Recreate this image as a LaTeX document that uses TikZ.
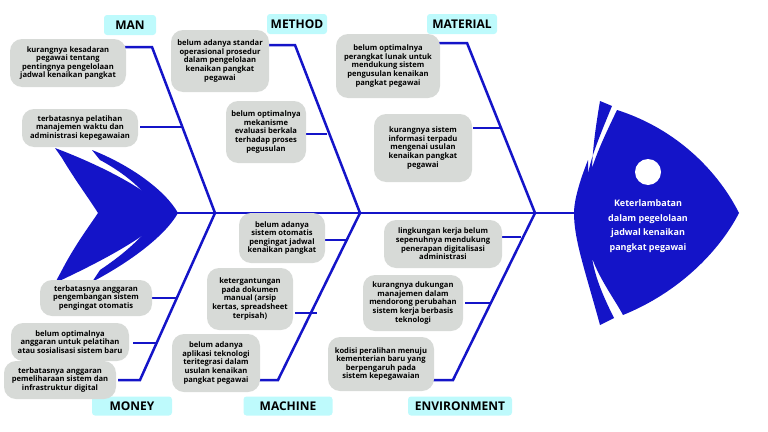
\documentclass[tikz,border=0pt]{standalone}
\usepackage{fontspec}
\setmainfont{Open Sans}
\usetikzlibrary{calc}
\definecolor{bone}{RGB}{20,20,200}
\definecolor{cause}{RGB}{215,218,215}
\definecolor{cat}{RGB}{190,250,252}
\tikzset{
  causebox/.style={fill=cause, rounded corners=12pt, align=center, font=\fontsize{7.6}{8.6}\selectfont\bfseries, inner sep=1pt},
  catbox/.style={fill=cat, rounded corners=3pt, font=\fontsize{12}{13}\selectfont\bfseries, inner sep=2pt},
  bonel/.style={bone, line width=2.5pt}
}
\begin{document}
\begin{tikzpicture}[x=1pt,y=-1pt]
  \useasboundingbox (0,0) rectangle (768,431);
  % tail
  \fill[bone] (55,148) .. controls (100,165) and (150,190) .. (168,213) .. controls (150,236) and (100,262) .. (55,283) -- (62,270) .. controls (75,245) and (90,225) .. (98,213) .. controls (90,200) and (75,180) .. (62,158) -- cycle;
  \fill[bone] (92,150) .. controls (130,165) and (165,190) .. (178,213) .. controls (165,236) and (130,262) .. (92,282) -- (100,270) .. controls (130,250) and (150,230) .. (158,213) .. controls (150,196) and (130,176) .. (100,160) -- cycle;
  % head
  \fill[bone] (600,101) -- (612,106) .. controls (598,140) and (590,160) .. (588,175) -- (588,160) .. controls (580,180) and (574,200) .. (574,213) .. controls (574,240) and (585,270) .. (600,325) -- (614,318) .. controls (600,290) and (595,275) .. (592,258) .. controls (600,280) and (615,300) .. (623,315) .. controls (680,292) and (720,250) .. (739,213) .. controls (720,175) and (680,130) .. (617,110) .. controls (605,135) and (598,150) .. (592,168) .. controls (593,145) and (596,125) .. (600,101) -- cycle;
  \fill[white] (648,172) circle (13);
  \node[text=white, align=center, font=\fontsize{9}{14.5}\selectfont\bfseries] (effect) at (648,226) {Keterlambatan\\dalam pegelolaan\\jadwal kenaikan\\pangkat pegawai};

  % spine and bones
  \coordinate (tail) at (170,213);
  \coordinate (head) at (576,213);
  \draw[bonel] (tail) -- (head);
  \draw[bonel] (123,47) -- (152,47) -- (215,213) -- (140,380) -- (118,380);
  \draw[bonel] (267,45) -- (295,45) -- (360,213) -- (278,380) -- (258,380);
  \draw[bonel] (438,43) -- (467,43) -- (535,213) -- (453,380) -- (432,380);
  \draw[bonel] (140,127) -- (182,127);
  \draw[bonel] (298,134) -- (327,134);
  \draw[bonel] (473,128) -- (500,128);
  \draw[bonel] (152,298) -- (177,298);
  \draw[bonel] (133,343) -- (156,343);
  \draw[bonel] (325,240) -- (348,240);
  \draw[bonel] (295,313) -- (317,313);
  \draw[bonel] (500,237) -- (521,237);
  \draw[bonel] (465,303) -- (490,303);

  % categories
  \node[catbox, minimum width=52pt, minimum height=20pt] (man) at (130,25) {MAN};
  \node[catbox, minimum width=60pt, minimum height=20pt] (method) at (297,24) {METHOD};
  \node[catbox, minimum width=70pt, minimum height=20pt] (material) at (462,24) {MATERIAL};
  \node[catbox, minimum width=80pt, minimum height=19pt] (money) at (132,406) {MONEY};
  \node[catbox, minimum width=89pt, minimum height=19pt] (machine) at (288,406) {MACHINE};
  \node[catbox, minimum width=104pt, minimum height=19pt] (environment) at (460,406) {ENVIRONMENT};

  % causes
  \node[causebox, minimum width=116pt, minimum height=48pt] (man1) at (68,63) {kurangnya kesadaran\\pegawai tentang\\pentingnya pengelolaan\\jadwal kenaikan pangkat};
  \node[causebox, minimum width=116pt, minimum height=38pt] (man2) at (80,128) {terbatasnya pelatihan\\manajemen waktu dan\\administrasi kepegawaian};
  \node[causebox, minimum width=98pt, minimum height=62pt] (method1) at (220,61) {belum adanya standar\\operasional prosedur\\dalam pengelolaan\\kenaikan pangkat\\pegawai};
  \node[causebox, minimum width=80pt, minimum height=62pt] (method2) at (266,132) {belum optimalnya\\mekanisme\\evaluasi berkala\\terhadap proses\\pegusulan};
  \node[causebox, minimum width=104pt, minimum height=64pt] (material1) at (388,66) {belum optimalnya\\perangkat lunak untuk\\mendukung sistem\\pengusulan kenaikan\\pangkat pegawai};
  \node[causebox, minimum width=98pt, minimum height=68pt] (material2) at (423,148) {kurangnya sistem\\informasi terpadu\\mengenai usulan\\kenaikan pangkat\\pegawai};
  \node[causebox, minimum width=112pt, minimum height=36pt] (money1) at (96,298) {terbatasnya anggaran\\pengembangan sistem\\pengingat otomatis};
  \node[causebox, minimum width=118pt, minimum height=38pt] (money2) at (70,342) {belum optimalnya\\anggaran untuk pelatihan\\atau sosialisasi sistem baru};
  \node[causebox, minimum width=112pt, minimum height=38pt] (money3) at (60,380) {terbatasnya anggaran\\pemeliharaan sistem dan\\infrastruktur digital};
  \node[causebox, minimum width=86pt, minimum height=50pt] (machine1) at (282,238) {belum adanya\\sistem otomatis\\pengingat jadwal\\kenaikan pangkat};
  \node[causebox, minimum width=86pt, minimum height=62pt] (machine2) at (250,299) {ketergantungan\\pada dokumen\\manual (arsip\\kertas, spreadsheet\\terpisah)};
  \node[causebox, minimum width=88pt, minimum height=58pt] (machine3) at (216,363) {belum adanya\\aplikasi teknologi\\teritegrasi dalam\\usulan kenaikan\\pangkat pegawai};
  \node[causebox, minimum width=118pt, minimum height=48pt] (environment1) at (443,244) {lingkungan kerja belum\\sepenuhnya mendukung\\penerapan digitalisasi\\administrasi};
  \node[causebox, minimum width=100pt, minimum height=56pt] (environment2) at (413,303) {kurangnya dukungan\\manajemen dalam\\mendorong perubahan\\sistem kerja berbasis\\teknologi};
  \node[causebox, minimum width=106pt, minimum height=54pt] (environment3) at (381,364) {kodisi peralihan menuju\\kementerian baru yang\\berpengaruh pada\\sistem kepegawaian};
\end{tikzpicture}
\end{document}
